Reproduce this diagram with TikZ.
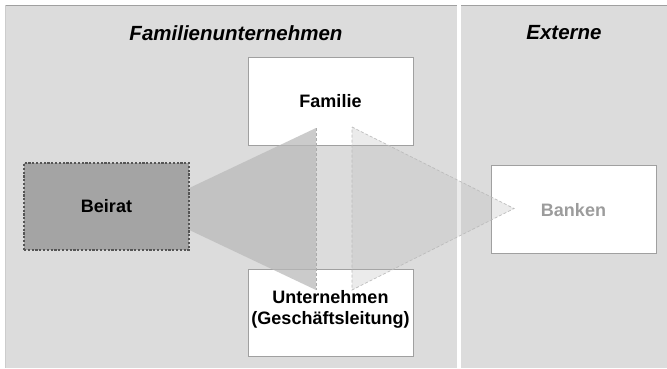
\documentclass[tikz,border=0pt]{standalone}
\usepackage{fontspec}
\setmainfont{Liberation Sans}
\begin{document}
\begin{tikzpicture}[x=1pt,y=-1pt,
  panel/.style={fill=panelgray,draw=none},
  boxlabel/.style={font=\fontsize{18}{21}\selectfont\bfseries,align=center},
  title/.style={font=\fontsize{20.5}{24}\selectfont\bfseries\itshape},
  whitebox/.style={draw=boxline,line width=0.9pt,fill=white,minimum width=165pt,minimum height=88pt,inner sep=0pt},
  beiratbox/.style={draw=beiratline,dash pattern=on 2.2pt off 1.6pt,line width=1.2pt,fill=beiratfill,minimum width=165pt,minimum height=87pt,inner sep=0pt},
  arrowedge/.style={draw=edgegray,dash pattern=on 3pt off 2pt,line width=0.7pt}]
\definecolor{panelgray}{HTML}{DCDCDC}
\definecolor{boxline}{HTML}{A0A0A0}
\definecolor{beiratfill}{HTML}{A4A4A4}
\definecolor{beiratline}{HTML}{555555}
\definecolor{arrowfill}{HTML}{B8B8B8}
\definecolor{edgegray}{HTML}{ABABAB}
\definecolor{bankentext}{HTML}{9C9C9C}

% page and the two panels
\useasboundingbox (0,0) rectangle (667,368);
\fill[white] (0,0) rectangle (667,368);
\fill[panelgray] (5,5) rectangle (457,368);
\fill[panelgray] (461,5) rectangle (667,368);
\draw[boxline,line width=1pt] (5,5.5) -- (457,5.5);
\draw[boxline,line width=1pt] (461,5.5) -- (667,5.5);
\draw[gray!40,line width=1pt] (5.5,5) -- (5.5,368);

% panel titles
\node[title] (tfam) at (236,33) {Familienunternehmen};
\node[title] (text) at (564,33) {Externe};

% white boxes
\node[whitebox] (familie) at (330.5,101) {};
\node[boxlabel] (familietxt) at (330.5,101) {Familie};
\node[whitebox,minimum height=87pt] (untern) at (330.5,312.5) {};
\node[boxlabel] (unterntxt) at (330.5,309.5) {Unternehmen\\(Geschäftsleitung)};
\node[whitebox] (banken) at (573.5,209) {};

% arrowhead pointing to the advisory board
\coordinate (ltop) at (316,128);
\coordinate (lbot) at (316,290);
\coordinate (ltip) at (145,209);
\fill[arrowfill,opacity=0.72] (ltop) -- (ltip) -- (lbot) -- cycle;
\draw[arrowedge] (ltop) -- (lbot);

% advisory board box on top of the arrow tip
\node[beiratbox] (beirat) at (106.5,206.5) {};
\node[boxlabel] (beirattxt) at (106.5,206.5) {Beirat};

% faint arrowhead pointing to the banks
\coordinate (rtop) at (352,127);
\coordinate (rbot) at (352,290);
\coordinate (rtip) at (514,208.5);
\fill[arrowfill,opacity=0.27] (rtop) -- (rtip) -- (rbot) -- cycle;
\draw[arrowedge,draw=edgegray!80] (rtop) -- (rtip) -- (rbot) -- cycle;

\node[boxlabel,text=bankentext] (bankentxt) at (573.5,210) {Banken};
\end{tikzpicture}
\end{document}
